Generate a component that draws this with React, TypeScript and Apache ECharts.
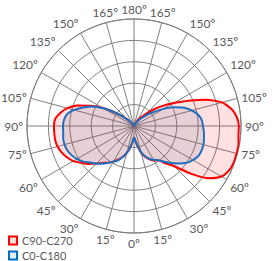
import React, { useEffect, useRef } from "react";
import * as echarts from "echarts";

// gamma angles (degrees from nadir), 5° steps
const gammaAngles = [0,5,10,15,20,25,30,35,40,45,50,55,60,65,70,75,80,85,90,95,100,105,110,115,120,125,130,135,140,145,150,155,160,165,170,175,180];

// C90-C270 plane (cd/klm) — C270 drawn on left, C90 on right
const c270 = [26,37,51,65,77,86,96,105,112,124,138,150,164,173,180,185,187,187,187,185,175,161,140,112,84,56,35,21,12,7,5,2,0,0,0,0,0];
const c90  = [26,35,49,65,77,86,93,98,114,133,173,213,236,245,248,248,248,245,245,241,231,213,180,140,107,82,61,42,28,19,12,7,5,2,2,0,0];

// C0-C180 plane (cd/klm) — C180 drawn on left, C0 on right
const c180 = [26,37,51,65,77,89,96,105,115,124,133,145,154,161,166,168,168,166,166,164,159,145,126,108,84,56,35,21,12,7,5,2,0,0,0,0,0];
const c0   = [26,35,47,63,75,84,91,98,108,122,136,150,159,166,168,168,166,164,161,159,152,140,124,103,80,58,42,28,19,12,7,5,2,0,0,0,0];

const seriesNames = ["C90-C270", "C0-C180"];
const tickInterval = 15;

function buildLoop(left: number[], right: number[]) {
  const pts: [number, number][] = [];
  for (let i = 0; i < gammaAngles.length; i++) pts.push([left[i], gammaAngles[i]]);
  for (let i = gammaAngles.length - 1; i >= 0; i--) pts.push([right[i], 360 - gammaAngles[i]]);
  return pts;
}

export default function App() {
  const ref = useRef<HTMLDivElement>(null);
  useEffect(() => {
    if (!ref.current) return;
    const chart = echarts.init(ref.current, null, { renderer: "svg" });
    const font = "Lato, 'Open Sans', sans-serif";
    const gridColor = "#7f7f7f";
    chart.setOption({
      animation: false,
      backgroundColor: "#ffffff",
      polar: { center: [134, 126], radius: 107 },
      angleAxis: {
        type: "value",
        min: 0,
        max: 360,
        interval: tickInterval,
        startAngle: 270,
        clockwise: true,
        axisLine: { show: true, lineStyle: { color: gridColor, width: 1 } },
        axisTick: { show: false },
        axisLabel: {
          margin: 4,
          color: "#595959",
          fontSize: 12,
          fontFamily: font,
          formatter: (v: number) => {
            if (v >= 360) return "";
            const a = v <= 180 ? v : 360 - v;
            return a + "º";
          },
        },
        splitLine: { show: true, lineStyle: { color: gridColor, width: 1 } },
      },
      radiusAxis: {
        type: "value",
        min: 0,
        max: 250,
        interval: 50,
        axisLine: { show: false },
        axisTick: { show: false },
        axisLabel: { show: false },
        splitLine: { show: true, lineStyle: { color: gridColor, width: 1 } },
      },
      legend: {
        orient: "vertical",
        left: 8,
        top: 235,
        padding: 0,
        itemWidth: 8,
        itemHeight: 8,
        itemGap: 4,
        textStyle: { color: "#595959", fontSize: 11, fontFamily: font, lineHeight: 11 },
        data: [
          { name: seriesNames[0], icon: "rect", itemStyle: { color: "#ffe0e0", borderColor: "#ff0000", borderWidth: 2 } },
          { name: seriesNames[1], icon: "rect", itemStyle: { color: "#e6eef8", borderColor: "#0070c0", borderWidth: 2 } },
        ],
      },
      series: [
        {
          name: seriesNames[0],
          type: "line",
          coordinateSystem: "polar",
          showSymbol: false,
          smooth: 0.2,
          data: buildLoop(c270, c90),
          lineStyle: { color: "#ff0000", width: 2 },
          itemStyle: { color: "#ff0000" },
          areaStyle: { color: "rgba(255,0,0,0.17)" },
          z: 2,
        },
        {
          name: seriesNames[1],
          type: "line",
          coordinateSystem: "polar",
          showSymbol: false,
          smooth: 0.2,
          data: buildLoop(c180, c0),
          lineStyle: { color: "#1f6fc0", width: 2 },
          itemStyle: { color: "#1f6fc0" },
          areaStyle: { color: "rgba(90,120,160,0.22)" },
          z: 3,
        },
      ],
    });
    return () => chart.dispose();
  }, []);
  return (
    <div
      ref={ref}
      style={{ position: "fixed", left: 0, top: 0, width: 278, height: 261 }}
    />
  );
}
